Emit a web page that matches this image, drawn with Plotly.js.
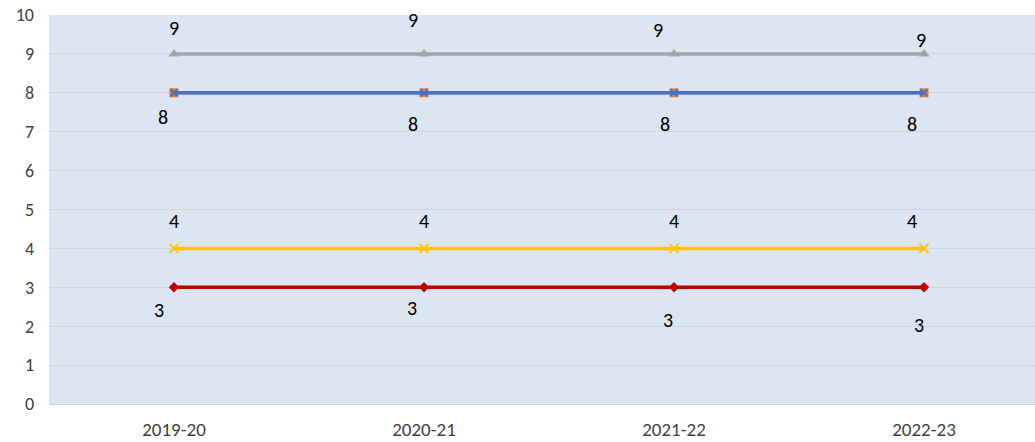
<!DOCTYPE html>
<html>
<head>
<meta charset="utf-8">
<script src="https://cdn.plot.ly/plotly-3.0.1.min.js"></script>
<style>html,body{margin:0;padding:0;background:#fff;}#chart{width:1035px;height:442px;}</style>
</head>
<body>
<div id="chart"></div>
<script>
// Data
const categories = ["2019-20", "2020-21", "2021-22", "2022-23"];
const grayValues = [9, 9, 9, 9];
const orangeValues = [8, 8, 8, 8];
const blueValues = [8, 8, 8, 8];
const yellowValues = [4, 4, 4, 4];
const redValues = [3, 3, 3, 3];
const yTicks = [0, 1, 2, 3, 4, 5, 6, 7, 8, 9, 10];

// Label placement offsets (pixels) - styling only
const grayLabelDX = [0, -11, -16, -3], grayLabelDY = [26, 34, 24, 14];
const blueLabelDX = [-11, -11, -9, -12], blueLabelDY = [-24, -31, -31, -31];
const yellowLabelDX = [0, 0, 0, -12], yellowLabelDY = [27, 27, 27, 27];
const redLabelDX = [-15, -12, -6, -5], redLabelDY = [-23, -21, -33, -38];

const FONT = "Carlito, Calibri, Lato, 'Liberation Sans', sans-serif";

function series(vals, color, symbol, size, mcolor, lineColor) {
  return {
    x: categories, y: vals, type: "scatter", mode: "lines+markers",
    line: {color: lineColor || color, width: 3.5},
    marker: {symbol: symbol, size: size, color: mcolor || color, line: {width: 0}},
    hoverinfo: "skip", showlegend: false, cliponaxis: false
  };
}

const traces = [
  series(orangeValues, "#ed7d31", "square", 9),
  series(blueValues, "#4472c4", "x-thin-open", 7, "#4472c4"),
  series(grayValues, "#a5a5a5", "triangle-up", 10),
  series(yellowValues, "#ffc000", "x-thin-open", 9),
  series(redValues, "#c00000", "diamond", 8)
];
traces[1].marker.line = {width: 2, color: "#4472c4"};
traces[3].marker.line = {width: 2, color: "#ffc000"};

const annotations = [];
function addLabels(vals, dx, dy) {
  vals.forEach((v, i) => {
    annotations.push({
      x: categories[i], y: v, xref: "x", yref: "y", text: String(v),
      showarrow: false, xshift: dx[i], yshift: dy[i],
      font: {family: FONT, size: 20, color: "#000000"}
    });
  });
}
addLabels(grayValues, grayLabelDX, grayLabelDY);
addLabels(blueValues, blueLabelDX, blueLabelDY);
addLabels(yellowValues, yellowLabelDX, yellowLabelDY);
addLabels(redValues, redLabelDX, redLabelDY);

const layout = {
  width: 1035, height: 442,
  margin: {l: 49, r: 0, t: 15, b: 38, pad: 0},
  paper_bgcolor: "#ffffff",
  plot_bgcolor: "#dce6f2",
  showlegend: false,
  font: {family: FONT, color: "#595959", size: 15},
  xaxis: {
    type: "category", range: [-0.5, 3.444],
    showgrid: false, zeroline: false,
    showline: true, linecolor: "#d0d0d0", linewidth: 1,
    ticks: "", ticklabelstandoff: 8,
    tickfont: {family: FONT, size: 19, color: "#404040"},
    fixedrange: true
  },
  yaxis: {
    range: [0, 10], tickvals: yTicks, ticktext: yTicks.map(String),
    showgrid: true, gridcolor: "#d4d4d4", gridwidth: 1,
    zeroline: false, showline: false, ticks: "",
    ticklabelstandoff: 14,
    tickfont: {family: FONT, size: 18, color: "#404040"},
    fixedrange: true
  },
  annotations: annotations
};

Plotly.newPlot("chart", traces, layout, {staticPlot: true, displayModeBar: false});
</script>
</body>
</html>
